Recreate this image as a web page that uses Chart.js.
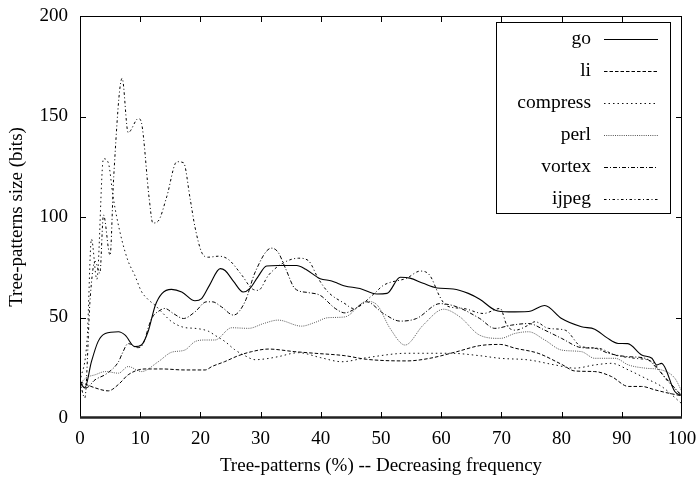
<!DOCTYPE html>
<html>
<head>
<meta charset="utf-8">
<script src="https://cdn.jsdelivr.net/npm/chart.js@4/dist/chart.umd.min.js"></script>
<style>
  html, body { margin: 0; padding: 0; background: #fff; }
  #wrap { width: 697px; height: 477px; }
</style>
</head>
<body>
<div id="wrap"><canvas id="c" width="697" height="477"></canvas></div>
<script>
// Tree-pattern size per benchmark, against the share of tree-patterns (sorted by decreasing frequency)
const seriesNames = ['go', 'li', 'compress', 'perl', 'vortex', 'ijpeg'];

const goX = [0, 0.8, 1.9, 3, 4.2, 6.4, 7.5, 9.1, 10.2, 11.3, 12.5, 13.6, 15.2, 16.9, 19.1, 20.2, 21.5, 23.3, 24.1, 25.5, 27.1, 28.2, 29.5, 31, 32.9, 36, 37.5, 39.9, 41.8, 43.2, 44, 46.5, 49.3, 51, 53.2, 54.8, 57, 59.3, 62, 64.5, 66.4, 69, 71.2, 74.5, 77.2, 80, 83.3, 85.5, 87.5, 89.4, 91, 93.3, 95, 95.8, 96.6, 98.8, 100];
const goY = [17.5, 15, 28, 38, 42, 42.9, 41.2, 35.5, 36.3, 42.9, 56, 61.9, 64, 62.7, 58.3, 59.4, 66, 74.3, 73.4, 68, 62.7, 64.4, 70, 75.6, 75.9, 75.9, 74, 69.3, 68.2, 66.5, 65.7, 64.4, 61.7, 62, 70, 69.6, 67, 64.7, 64.2, 62, 59.1, 53.6, 52.8, 53, 56, 49.5, 45.4, 44.2, 40, 37.1, 37, 31.3, 29.7, 26.4, 27.2, 13.2, 11];

const liX = [0, 2.5, 4.7, 6.5, 8, 10.8, 13.6, 17.4, 20.8, 21.9, 24, 26.3, 28.5, 31.3, 35.7, 39, 44, 47.6, 54.3, 58.1, 62.6, 66.4, 69.8, 72.3, 76.1, 80, 82.2, 85.5, 88.3, 91.1, 93.3, 95.5, 97.7, 100];
const liY = [18, 15, 13.5, 17, 21.5, 24.4, 24.4, 23.9, 23.9, 25.6, 28, 31, 33, 34.3, 33, 32.2, 31, 29.2, 28.4, 29.7, 33, 36, 36.6, 34.7, 32.2, 26.7, 23.4, 23.1, 20.6, 15.7, 15.7, 14, 12.4, 11];

const compressX = [0, 1.2, 1.9, 2.8, 3.9, 4.7, 5.5, 6.1, 7, 8, 9.1, 10.2, 11.3, 12.5, 13.8, 15.2, 17.4, 19.1, 21.3, 22.5, 24.1, 25.7, 27.4, 29.1, 31, 32.9, 36.3, 40, 43.5, 47.6, 54.3, 61.5, 66.4, 69.8, 74.5, 78.9, 82.2, 85.5, 88.3, 91.1, 93.9, 96.6, 100];
const compressY = [18, 40, 89, 69, 129, 127, 110, 100, 88, 78, 71, 63, 59, 56, 52, 48, 45, 44.6, 43.2, 41, 38, 34, 31, 29, 29.5, 30.5, 32.5, 30, 28, 30, 32.2, 32.2, 31, 29.7, 28.9, 26.4, 24.8, 26.4, 27.2, 23.9, 19.8, 15.7, 7];

const perlX = [0, 1, 2.5, 4.2, 6.4, 8, 10.2, 13, 15.2, 17.4, 19.1, 20.8, 22.4, 25.2, 28, 30.5, 32.9, 36.8, 39, 41.2, 44, 47.6, 49.3, 51.5, 54, 57, 60.4, 63.1, 66.4, 69.8, 72.3, 74.5, 77.2, 80, 83.3, 85.5, 88.9, 91.1, 93.9, 96.6, 98.8, 100];
const perlY = [17, 20, 21.5, 23.1, 22.3, 25.6, 23.1, 28, 32.7, 33.8, 38, 38.8, 38.8, 44.9, 44.6, 47, 48.7, 45.7, 47.5, 49.9, 50.3, 58, 56.4, 44.6, 36.3, 46.2, 54.1, 50.3, 41.2, 39.6, 42.1, 42.9, 38.8, 33.8, 33, 29.7, 29.7, 26.4, 24.8, 23.9, 19.8, 13];

const vortexX = [0, 1, 2.5, 4.4, 6.4, 7, 8, 8.6, 9.5, 10.3, 11.9, 13.3, 14.1, 15.5, 17.2, 19.1, 21, 22, 23.5, 25.5, 27.4, 29.1, 31.8, 32.9, 34.2, 35.7, 37.9, 39.9, 42.4, 44, 45.5, 47.6, 50.4, 53.2, 55.9, 59.8, 62.6, 66.4, 68.9, 71.7, 74.5, 77.2, 80, 83.3, 85.5, 87.8, 91.1, 93.9, 96.1, 98.3, 100];
const vortexY = [18, 15, 19, 22, 28, 32, 37, 36.5, 35, 36, 49.5, 53.6, 54.5, 52, 49.5, 52.8, 57.8, 57.8, 55.3, 51.2, 57.8, 72.6, 84.5, 82.5, 74, 64.4, 62.4, 61, 54.5, 52.3, 54, 57.8, 52, 48.2, 49.5, 56.9, 55.3, 49.5, 44.6, 46.2, 47, 43.7, 39.6, 35, 34.7, 32.2, 30.5, 29.7, 23.9, 16.5, 11];

const ijpegX = [0, 0.8, 1.7, 2.5, 3.3, 3.9, 5, 5.6, 7, 8, 9.7, 10.2, 11.5, 12.1, 13, 14.4, 16.1, 17.2, 18.3, 19.1, 20.2, 21.3, 23, 24.6, 26.9, 28.5, 29.6, 31.3, 33.5, 36.3, 37.9, 39.6, 41.2, 44, 45.4, 48.7, 50.4, 54.3, 56.5, 58.1, 59.8, 60.9, 63.7, 67, 69.8, 70.9, 72.3, 74.5, 75.6, 77.8, 80.6, 83.3, 86.1, 88.9, 92.2, 95, 97.2, 100];
const ijpegY = [18, 10, 60, 78, 72, 101, 81, 120, 169, 142, 149, 147, 109, 97, 98, 110, 127.5, 127, 109, 95, 82.5, 80, 80.5, 79, 71, 64.5, 63.5, 71, 76.7, 79.5, 78.4, 69.3, 62.7, 56.9, 54.5, 61.4, 66, 69.6, 73.1, 71, 60.2, 55.8, 54.5, 52, 54.5, 46.2, 43.7, 46.2, 47.9, 44.6, 43.7, 35.5, 34.7, 31.3, 29.7, 28, 19.8, 11];

const xTicks = [0, 10, 20, 30, 40, 50, 60, 70, 80, 90, 100];
const yTicks = [0, 50, 100, 150, 200];

const SERIF = '"Liberation Serif", "Times New Roman", serif';

function pts(xs, ys) { return xs.map((x, i) => ({ x: x, y: ys[i] })); }

const styles = {
  go:       { color: '#000000', dash: [],                 width: 1.1 },
  li:       { color: '#000000', dash: [3.5, 2],           width: 1.0 },
  compress: { color: '#111111', dash: [1.5, 3],           width: 1.0 },
  perl:     { color: '#555555', dash: [1, 1.2],           width: 1.0 },
  vortex:   { color: '#000000', dash: [4, 2, 1, 2],       width: 1.0 },
  ijpeg:    { color: '#000000', dash: [2.5, 2.5, 1, 2.5], width: 1.0 }
};

const seriesData = {
  go: pts(goX, goY),
  li: pts(liX, liY),
  compress: pts(compressX, compressY),
  perl: pts(perlX, perlY),
  vortex: pts(vortexX, vortexY),
  ijpeg: pts(ijpegX, ijpegY)
};

const datasets = seriesNames.map(n => ({
  label: n,
  data: seriesData[n],
  borderColor: styles[n].color,
  borderDash: styles[n].dash,
  borderWidth: styles[n].width,
  pointRadius: 0,
  fill: false,
  cubicInterpolationMode: 'monotone'
}));

// Frame with inward tick marks on all four sides
const framePlugin = {
  id: 'frame',
  afterDatasetsDraw(chart) {
    const { ctx, chartArea: a, scales } = chart;
    const xs = scales.x, ys = scales.y;
    const L = 6;
    ctx.save();
    ctx.strokeStyle = '#000';
    ctx.lineWidth = 1;
    ctx.setLineDash([]);
    ctx.strokeRect(a.left + 0.5, a.top + 0.5, a.right - a.left - 1, a.bottom - a.top - 1);
    // heavier baseline
    ctx.lineWidth = 2.5;
    ctx.strokeStyle = '#222';
    ctx.beginPath();
    ctx.moveTo(a.left, a.bottom - 0.5);
    ctx.lineTo(a.right, a.bottom - 0.5);
    ctx.stroke();
    ctx.lineWidth = 1;
    ctx.strokeStyle = '#000';
    ctx.beginPath();
    xTicks.slice(1, -1).forEach(v => {
      const px = Math.round(xs.getPixelForValue(v)) + 0.5;
      ctx.moveTo(px, a.bottom); ctx.lineTo(px, a.bottom - L);
      ctx.moveTo(px, a.top); ctx.lineTo(px, a.top + L);
    });
    yTicks.slice(1, -1).forEach(v => {
      const py = Math.round(ys.getPixelForValue(v)) + 0.5;
      ctx.moveTo(a.left, py); ctx.lineTo(a.left + L, py);
      ctx.moveTo(a.right, py); ctx.lineTo(a.right - L, py);
    });
    ctx.stroke();
    ctx.restore();
  }
};

// Key box in the upper right: right-aligned names followed by line samples
const keyPlugin = {
  id: 'key',
  afterDraw(chart) {
    const { ctx } = chart;
    const box = { left: 496, top: 22, right: 670, bottom: 213 };
    ctx.save();
    ctx.strokeStyle = '#000';
    ctx.lineWidth = 1;
    ctx.setLineDash([]);
    ctx.strokeRect(box.left + 0.5, box.top + 0.5, box.right - box.left, box.bottom - box.top);
    ctx.font = '19.5px ' + SERIF;
    ctx.fillStyle = '#000';
    ctx.textAlign = 'right';
    ctx.textBaseline = 'middle';
    chart.data.datasets.forEach((ds, i) => {
      const y = 39 + i * 32;
      ctx.fillText(ds.label, 591, y);
      ctx.beginPath();
      ctx.strokeStyle = ds.borderColor;
      ctx.lineWidth = ds.borderWidth;
      ctx.setLineDash(ds.borderDash);
      ctx.moveTo(604, y + 0.5);
      ctx.lineTo(658, y + 0.5);
      ctx.stroke();
    });
    ctx.restore();
  }
};

function noOverflow(s) {
  s.paddingLeft = 0; s.paddingRight = 0; s.paddingTop = 0; s.paddingBottom = 0;
}

new Chart(document.getElementById('c'), {
  type: 'line',
  data: { datasets: datasets },
  options: {
    responsive: false,
    animation: false,
    devicePixelRatio: 1,
    layout: { padding: { top: 16, right: 15, left: 0, bottom: 0 } },
    plugins: { legend: { display: false }, tooltip: { enabled: false } },
    scales: {
      x: {
        type: 'linear',
        min: 0, max: 100,
        afterBuildTicks: s => { s.ticks = xTicks.map(v => ({ value: v })); },
        afterFit: s => { s.height = 59; noOverflow(s); },
        grid: { display: false, drawTicks: false },
        border: { display: false },
        ticks: { color: '#000', padding: 10, maxRotation: 0, autoSkip: false, font: { family: SERIF, size: 19 } },
        title: { display: true, text: 'Tree-patterns (%) -- Decreasing frequency', color: '#000', padding: { top: 0, bottom: 0 }, font: { family: SERIF, size: 19 } }
      },
      y: {
        type: 'linear',
        min: 0, max: 200,
        afterBuildTicks: s => { s.ticks = yTicks.map(v => ({ value: v })); },
        afterFit: s => { s.width = 80; noOverflow(s); },
        grid: { display: false, drawTicks: false },
        border: { display: false },
        ticks: { color: '#000', padding: 12, autoSkip: false, font: { family: SERIF, size: 19 } },
        title: { display: true, text: 'Tree-patterns size (bits)', color: '#000', padding: { top: 6, bottom: 0 }, font: { family: SERIF, size: 19 } }
      }
    }
  },
  plugins: [framePlugin, keyPlugin]
});
</script>
</body>
</html>
